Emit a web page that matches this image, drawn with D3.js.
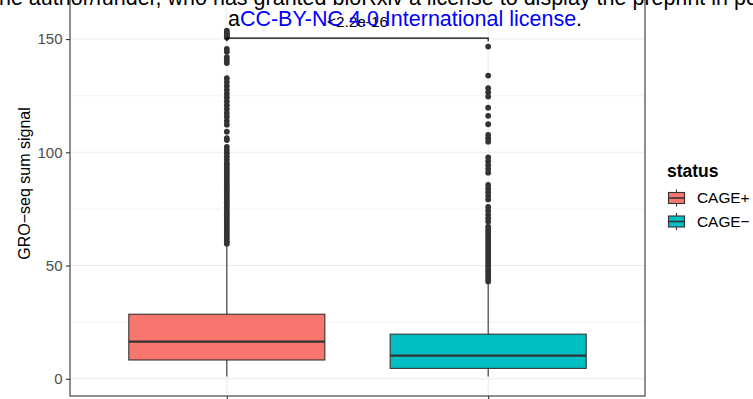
<!DOCTYPE html>
<html>
<head>
<meta charset="utf-8">
<script src="https://cdn.jsdelivr.net/npm/d3@7/dist/d3.min.js"></script>
<style>
  html, body { margin: 0; padding: 0; background: #fff; }
  svg { display: block; font-family: "Liberation Sans", Arial, sans-serif; }
</style>
</head>
<body>
<svg id="chart" width="753" height="399"></svg>
<script>
// Groups and their box summaries (GRO-seq sum signal)
const categories = ["CAGE+", "CAGE\u2212"];
const q1 = [8.3, 4.6];
const median = [16.4, 10.2];
const q3 = [28.5, 19.7];
const whiskerLow = [1.0, 1.0];
const whiskerHigh = [58.6, 42.2];
const fills = ["#F8766D", "#00BFC4"];

// Outlying points beyond the whiskers
const outliersPlus = [153.7, 153.1, 152.5, 151.9, 151.3, 150.7, 145.7, 144.4, 142.0, 140.7, 139.4,
  132.7, 131.0, 129.3, 127.6, 125.9, 124.2, 122.5, 120.8, 119.1, 117.4, 115.7, 113.9, 112.2,
  109.1, 106.2, 105.4, 102.4, 101.0, 99.6, 98.1, 96.7, 95.2, 94.1, 92.9, 91.8, 90.6, 89.5, 88.3,
  87.2, 86.0, 84.9, 83.7, 82.6, 81.4, 80.3, 79.1, 78.0, 76.8, 75.7, 74.5, 73.4, 72.2, 71.1, 69.9,
  68.8, 67.6, 66.5, 65.3, 64.2, 63.0, 61.9, 60.7, 59.6];
const outliersMinus = [146.7, 133.9, 128.3, 126.5, 124.6, 119.7, 116.1, 112.4, 107.7, 106.2, 104.7,
  97.7, 96.0, 94.3, 92.6, 91.0, 85.6, 84.0, 82.4, 80.8, 79.2, 75.9, 74.2, 72.5, 70.9, 69.4,
  67.2, 66.1, 65.0, 63.9, 62.8, 61.7, 60.6, 59.5, 58.4, 57.3, 56.2, 55.1, 54.0, 52.9, 51.8,
  50.7, 49.6, 48.5, 47.4, 46.3, 45.2, 44.1, 43.0];
const outliers = [outliersPlus, outliersMinus];

const yTicks = [0, 50, 100, 150];
const yMinor = [25, 75, 125, 175];
const pLabel = "<2.2e-16";
const bracketValue = 150.4;

const svg = d3.select("#chart");
const panel = { left: 70, right: 645, top: -30, bottom: 396 };
const grey20 = "#333333";

const x = d3.scalePoint().domain(categories).range([panel.left, panel.right]).padding(0.6);
const y = d3.scaleLinear().domain([-7.6, 180.5]).range([panel.bottom, panel.top]);
const boxW = x.step() * 0.75;

// grid
const grid = svg.append("g");
grid.selectAll("line.minor").data(yMinor).join("line")
  .attr("x1", panel.left).attr("x2", panel.right)
  .attr("y1", d => y(d)).attr("y2", d => y(d))
  .attr("stroke", "#ebebeb").attr("stroke-width", 0.6);
grid.selectAll("line.major").data(yTicks).join("line")
  .attr("x1", panel.left).attr("x2", panel.right)
  .attr("y1", d => y(d)).attr("y2", d => y(d))
  .attr("stroke", "#ebebeb").attr("stroke-width", 1.1);
grid.selectAll("line.vx").data(categories).join("line")
  .attr("x1", d => x(d)).attr("x2", d => x(d))
  .attr("y1", panel.top).attr("y2", panel.bottom)
  .attr("stroke", "#ebebeb").attr("stroke-width", 1.1);

// boxes
const boxes = svg.append("g").selectAll("g").data(categories).join("g");
boxes.append("line")
  .attr("x1", d => x(d)).attr("x2", d => x(d))
  .attr("y1", (d, i) => y(whiskerHigh[i])).attr("y2", (d, i) => y(q3[i]))
  .attr("stroke", grey20).attr("stroke-width", 1.1);
boxes.append("line")
  .attr("x1", d => x(d)).attr("x2", d => x(d))
  .attr("y1", (d, i) => y(q1[i])).attr("y2", (d, i) => y(whiskerLow[i]))
  .attr("stroke", grey20).attr("stroke-width", 1.1);
boxes.append("rect")
  .attr("x", d => x(d) - boxW / 2).attr("width", boxW)
  .attr("y", (d, i) => y(q3[i])).attr("height", (d, i) => y(q1[i]) - y(q3[i]))
  .attr("fill", (d, i) => fills[i]).attr("stroke", grey20).attr("stroke-width", 1.1);
boxes.append("line")
  .attr("x1", d => x(d) - boxW / 2).attr("x2", d => x(d) + boxW / 2)
  .attr("y1", (d, i) => y(median[i])).attr("y2", (d, i) => y(median[i]))
  .attr("stroke", grey20).attr("stroke-width", 2.3);
boxes.each(function (d, i) {
  d3.select(this).selectAll("circle").data(outliers[i]).join("circle")
    .attr("cx", x(d)).attr("cy", v => y(v)).attr("r", 2.9)
    .attr("fill", grey20);
});

// significance bracket
const bx1 = x(categories[0]), bx2 = x(categories[1]), by = y(bracketValue);
svg.append("path")
  .attr("d", `M${bx1},${by + 3}V${by}H${bx2}V${by + 3}`)
  .attr("fill", "none").attr("stroke", "#000").attr("stroke-width", 1.1);
svg.append("text")
  .attr("x", (bx1 + bx2) / 2).attr("y", 26.5)
  .attr("text-anchor", "middle").attr("font-size", 15.4).attr("fill", "#000")
  .text(pLabel);

// panel border
svg.append("rect")
  .attr("x", panel.left).attr("y", panel.top)
  .attr("width", panel.right - panel.left).attr("height", panel.bottom - panel.top)
  .attr("fill", "none").attr("stroke", grey20).attr("stroke-width", 1.1);

// axes
const yAxis = svg.append("g").attr("transform", `translate(${panel.left},0)`)
  .call(d3.axisLeft(y).tickValues(yTicks).tickSize(4).tickPadding(3.5));
yAxis.select(".domain").remove();
yAxis.selectAll(".tick line").attr("stroke", grey20).attr("stroke-width", 1.1);
yAxis.selectAll(".tick text").attr("fill", "#4d4d4d").attr("font-size", 15)
  .attr("font-family", "Liberation Sans, Arial, sans-serif");

const xAxis = svg.append("g").attr("transform", `translate(0,${panel.bottom})`)
  .call(d3.axisBottom(x).tickSize(4).tickFormat(""));
xAxis.select(".domain").remove();
xAxis.selectAll(".tick line").attr("stroke", grey20).attr("stroke-width", 1.1);

svg.append("text")
  .attr("transform", `translate(30,${(panel.top + panel.bottom) / 2 + 0.5}) rotate(-90)`)
  .attr("text-anchor", "middle").attr("font-size", 16).attr("fill", "#000")
  .text("GRO\u2212seq sum signal");

// legend
const legend = svg.append("g").attr("transform", "translate(667,0)");
legend.append("text").attr("x", 0).attr("y", 177)
  .attr("font-size", 17.5).attr("font-weight", "bold").attr("fill", "#000").text("status");
const keyY = [198, 221.5];
const keys = legend.selectAll("g.key").data(categories).join("g")
  .attr("transform", (d, i) => `translate(0,${keyY[i]})`);
keys.append("line").attr("x1", 9.5).attr("x2", 9.5).attr("y1", -8.5).attr("y2", 8.5)
  .attr("stroke", grey20).attr("stroke-width", 1.1);
keys.append("rect").attr("x", 1.5).attr("y", -5.5).attr("width", 16).attr("height", 11)
  .attr("fill", (d, i) => fills[i]).attr("stroke", grey20).attr("stroke-width", 1.1);
keys.append("line").attr("x1", 1.5).attr("x2", 17.5).attr("y1", 0).attr("y2", 0)
  .attr("stroke", grey20).attr("stroke-width", 1.6);
keys.append("text").attr("x", 30).attr("y", 0).attr("dy", "0.35em")
  .attr("font-size", 15.4).attr("fill", "#000").text(d => d);

// preprint notice overlay
const note = svg.append("g").attr("font-size", 21.5);
note.append("text").attr("x", -7).attr("y", 5).attr("fill", "#000")
  .text("the author/funder, who has granted bioRxiv a license to display the preprint in perpetuity. It is made available under");
const line2 = note.append("text").attr("x", 405).attr("y", 25.5).attr("text-anchor", "middle");
line2.append("tspan").attr("fill", "#000").text("a");
line2.append("tspan").attr("fill", "#0000ff").text("CC-BY-NC 4.0 International license");
line2.append("tspan").attr("fill", "#000").text(".");
</script>
</body>
</html>
